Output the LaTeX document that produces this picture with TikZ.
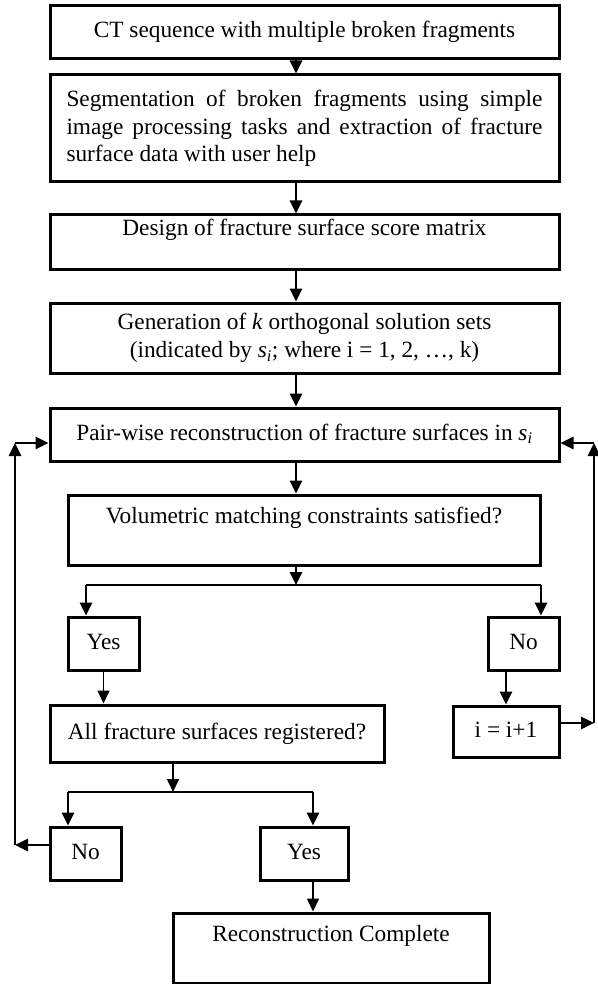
\documentclass[tikz,border=0pt]{standalone}
\usepackage{fontspec}
\setmainfont{Liberation Serif}
\usepackage{tikz}
\usetikzlibrary{positioning, arrows.meta, calc}

\begin{document}
\begin{tikzpicture}[x=1pt, y=-1pt,
    boxbase/.style={draw, line width=3pt, inner xsep=4pt, inner ysep=2pt, font=\fontsize{23.3pt}{27.5pt}\selectfont},
    box/.style={boxbase, text height=16pt, text depth=5pt},
    tallbox/.style={box, text depth=29pt},
    arr/.style={-{Triangle[length=13pt, width=12pt]}, line width=2.6pt},
    thinarr/.style={arr, line width=1.6pt},
    ln/.style={line width=2.6pt}]
  \useasboundingbox (0,0) rectangle (597,984);

  \node[box, minimum width=509pt, minimum height=53pt] (ct) at (304.5, 32.5) {CT sequence with multiple broken fragments};
  \node[boxbase, minimum width=509pt, minimum height=107pt, text width=476pt, align=justify] (seg) at (304.5, 128.5)
    {Segmentation of broken fragments using simple\linebreak image processing tasks and extraction of fracture\linebreak surface data with user help};
  \node[tallbox, minimum width=509pt, minimum height=54pt] (design) at (304.5, 242) {Design of fracture surface score matrix};
  \node[boxbase, minimum width=509pt, minimum height=70pt, align=center] (gen) at (304.5, 338)
    {Generation of \textit{k} orthogonal solution sets\\(indicated by \textit{s}\textsubscript{\textit{i}}; where i = 1, 2, \ldots, k)};
  \node[box, minimum width=509pt, minimum height=53pt] (pair) at (304.5, 434.5) {Pair-wise reconstruction of fracture surfaces in \textit{s}\textsubscript{\textit{i}}};
  \node[tallbox, minimum width=472pt, minimum height=70pt] (vol) at (304, 530) {Volumetric matching constraints satisfied?};

  \node[box, minimum width=71pt, minimum height=53pt] (yes1) at (103.5, 643.5) {Yes};
  \node[box, minimum width=71pt, minimum height=53pt] (no1) at (523.5, 643.5) {No};
  \node[box, minimum width=334pt, minimum height=57pt] (allreg) at (217, 733.5) {All fracture surfaces registered?};
  \node[box, minimum width=106pt, minimum height=51pt] (iinc) at (506, 731.5) {i = i+1};
  \node[box, minimum width=71pt, minimum height=53pt] (no2) at (85.5, 853.5) {No};
  \node[box, minimum width=88pt, minimum height=53pt] (yes2) at (304, 853.5) {Yes};
  \node[tallbox, minimum width=316pt, minimum height=70pt] (done) at (331, 948) {Reconstruction Complete};

  % split points and loop corners
  \coordinate (spine) at (296, 0);
  \coordinate (sp1) at (296, 585);
  \coordinate (sp1l) at (86, 585);
  \coordinate (sp1r) at (541, 585);
  \coordinate (sp2) at (173, 792);
  \coordinate (sp2l) at (68, 792);
  \coordinate (sp2r) at (313, 792);
  \coordinate (ltop) at (15, 443);
  \coordinate (lbot) at (15, 845);
  \coordinate (rtop) at (594, 443);
  \coordinate (rbot) at (594, 723);

  \draw[arr] (ct.south -| spine) -- (seg.north -| spine);
  \draw[arr] (seg.south -| spine) -- (design.north -| spine);
  \draw[arr] (design.south -| spine) -- (gen.north -| spine);
  \draw[arr] (gen.south -| spine) -- (pair.north -| spine);
  \draw[arr] (pair.south -| spine) -- (vol.north -| spine);
  \draw[arr] (vol.south -| spine) -- (sp1);
  \draw[ln] (sp1l) -- (sp1r);
  \draw[arr] (sp1l) -- (sp1l |- yes1.north);
  \draw[arr] (sp1r) -- (sp1r |- no1.north);
  \draw[thinarr] (yes1.south) -- (yes1.south |- allreg.north);
  \draw[arr] (no1.south -| iinc) -- (iinc.north);
  \draw[thinarr] (allreg.south -| sp2) -- (sp2);
  \draw[ln] (sp2l) -- (sp2r);
  \draw[arr] (sp2l) -- (sp2l |- no2.north);
  \draw[arr] (sp2r) -- (sp2r |- yes2.north);
  \draw[thinarr] (yes2.south -| sp2r) -- (sp2r |- done.north);

  % feedback loops
  \draw[arr] (no2.west |- lbot) -- (lbot);
  \draw[arr] (lbot) -- (ltop);
  \draw[arr] (ltop) -- (ltop -| pair.west);
  \draw[arr] (iinc.east |- rbot) -- (rbot);
  \draw[arr] (rbot) -- (rtop);
  \draw[arr] (rtop) -- (rtop -| pair.east);
\end{tikzpicture}
\end{document}
